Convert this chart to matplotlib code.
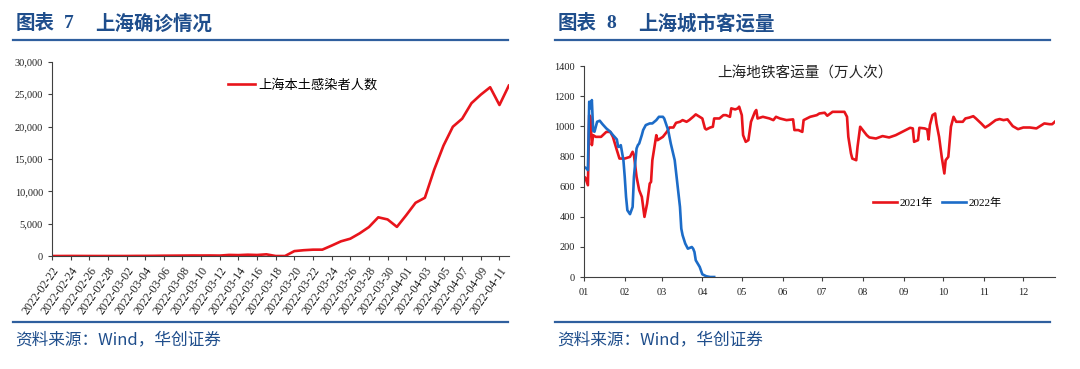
import matplotlib
matplotlib.use("Agg")
import matplotlib.pyplot as plt
from matplotlib.lines import Line2D
from matplotlib.ticker import FuncFormatter
import pandas as pd

CJK = ["Noto Sans CJK SC", "DejaVu Sans"]
SERIF = ["Liberation Serif", "Noto Sans CJK SC"]

TITLE_BLUE = "#1f4e8c"
RULE_BLUE = "#2f5f9e"
RED = "#e8141b"
BLUE = "#1c6cc8"

# ---- chart 7: Shanghai local infections, daily 2022-02-22 .. 2022-04-12
case_start, case_end = "2022-02-22", "2022-04-12"
cases_feb = [2, 3, 10, 8, 3, 1, 2]
cases_mar = [2, 5, 16, 19, 28, 48, 55, 65, 80, 75,
             83, 65, 169, 139, 202, 158, 260, 0, 0, 758,
             896, 981, 983, 1609, 2269, 2676, 3500, 4477, 5982, 5653,
             4502]
cases_apr = [6311, 8226, 9006, 13354, 17077, 19982, 21222, 23624, 24944, 26087,
             23342, 26330]
cases_label = "上海本土感染者人数"

# ---- chart 8: Shanghai metro ridership (10k trips), x = day of year
day_2021 = [0, 1, 3, 4, 5, 6, 7, 9, 13, 17, 20, 22, 25, 27, 31, 35, 37, 38, 40, 42,
            44, 46, 48, 50, 51, 52, 54, 55, 56, 58, 60, 63, 65, 68, 70, 73, 75, 78, 80, 83,
            85, 88, 90, 92, 93, 96, 98, 99, 103, 106, 108, 111, 112, 115, 117, 118, 120, 121, 123, 125,
            127, 130, 131, 132, 136, 141, 144, 146, 149, 154, 159, 160, 163, 166, 167, 172, 177, 179, 183, 185,
            189, 192, 198, 200, 201, 203, 204, 207, 208, 210, 212, 215, 217, 222, 227, 232, 237, 242, 248, 250,
            251, 254, 255, 259, 261, 262, 263, 265, 267, 268, 270, 272, 274, 275, 277, 279, 281, 283, 288, 290,
            293, 296, 298, 302, 305, 308, 313, 316, 319, 322, 326, 330, 334, 339, 344, 350, 354, 356, 358]
ride_2021 = [665, 660, 609, 1074, 1063, 875, 941, 930, 930, 963, 963, 930, 842, 786, 786, 797, 831, 809, 665, 576,
             532, 399, 487, 620, 631, 775, 886, 941, 908, 919, 930, 963, 992, 992, 1023, 1030, 1041, 1030, 1041, 1063,
             1079, 1063, 1052, 986, 979, 992, 997, 1052, 1052, 1074, 1074, 1063, 1119, 1112, 1119, 1130, 1074, 941, 897, 908,
             1030, 1096, 1108, 1052, 1063, 1052, 1041, 1063, 1052, 1041, 1046, 975, 975, 963, 1041, 1063, 1074, 1085, 1090, 1070,
             1096, 1096, 1096, 1063, 930, 820, 786, 775, 864, 997, 975, 941, 926, 919, 935, 926, 941, 963, 990, 986,
             897, 908, 990, 986, 979, 913, 1008, 1074, 1085, 1019, 930, 797, 687, 775, 797, 997, 1063, 1030, 1030, 1052,
             1058, 1067, 1052, 1019, 992, 1008, 1041, 1048, 1041, 1046, 1001, 981, 992, 992, 986, 1019, 1014, 1014, 1030]

day_2022 = [0, 2, 3, 4, 5, 6, 7, 8, 10, 12, 14, 17, 20, 22, 25, 26, 27, 28, 30, 31,
            32, 33, 35, 37, 38, 40, 41, 42, 44, 45, 47, 50, 52, 55, 57, 60, 61, 64, 66, 69,
            71, 73, 74, 75, 77, 79, 82, 83, 84, 85, 88, 90, 93, 96, 99]
ride_2022 = [731, 720, 709, 1163, 1120, 1174, 970, 964, 1030, 1037, 1015, 986, 964, 942, 913, 864, 864, 875, 775, 665,
             532, 443, 417, 465, 665, 853, 875, 886, 942, 975, 1008, 1019, 1019, 1041, 1063, 1063, 1052, 975, 886, 775,
             620, 465, 321, 277, 222, 188, 199, 188, 166, 111, 67, 18, 5, 0, 0]

month_start = [0, 31, 59, 90, 120, 151, 181, 212, 243, 273, 304, 334]
month_labels = ["01", "02", "03", "04", "05", "06", "07", "08", "09", "10", "11", "12"]
ride_title = "上海地铁客运量（万人次）"
ride_legend = ["2021年", "2022年"]


def style_axes(ax):
    for side in ("top", "right"):
        ax.spines[side].set_visible(False)
    for side in ("left", "bottom"):
        ax.spines[side].set_color("#404040")
        ax.spines[side].set_linewidth(0.8)
    ax.tick_params(direction="out", length=3, width=0.8, color="#404040",
                   labelsize=7.5, labelcolor="#222222")
    for lab in ax.get_xticklabels() + ax.get_yticklabels():
        lab.set_family(SERIF)


fig = plt.figure(figsize=(10.8, 3.69), dpi=100)

# headers, rules and source lines
for x0, x1, tx, num, head in [(0.012, 0.4704, 0.014, "7", "上海确诊情况"),
                              (0.5139, 0.9722, 0.516, "8", "上海城市客运量")]:
    fig.text(tx, 0.935, "图表", family=CJK, fontsize=14, fontweight="bold",
             color=TITLE_BLUE, va="center", ha="left")
    fig.text(tx + 0.0455, 0.935, num, family=SERIF, fontsize=14, fontweight="bold",
             color=TITLE_BLUE, va="center", ha="left")
    fig.text(tx + 0.0745, 0.935, head, family=CJK, fontsize=14, fontweight="bold",
             color=TITLE_BLUE, va="center", ha="left")
    fig.add_artist(Line2D([x0, x1], [0.8916, 0.8916], color=RULE_BLUE, lw=1.6))
    fig.add_artist(Line2D([x0, x1], [0.1274, 0.1274], color=RULE_BLUE, lw=1.6))
    fig.text(tx, 0.078, "资料来源：Wind，华创证券", family=CJK, fontsize=12,
             style="italic", color=TITLE_BLUE, va="center", ha="left")

# ---- left chart
cases = cases_feb + cases_mar + cases_apr
dates = pd.date_range(case_start, case_end, freq="D")
ax1 = fig.add_axes([0.0481, 0.3062, 0.423, 0.526])
ax1.plot(range(len(cases)), cases, color=RED, lw=1.9, label=cases_label)
ax1.set_xlim(0, len(cases) - 1)
ax1.set_ylim(0, 30000)
ax1.set_yticks(range(0, 30001, 5000))
ax1.yaxis.set_major_formatter(FuncFormatter(lambda v, p: f"{int(v):,}"))
ticks = list(range(0, len(cases), 2))
ax1.set_xticks(ticks)
ax1.set_xticklabels([dates[i].strftime("%Y-%m-%d") for i in ticks],
                    rotation=55, ha="right", rotation_mode="anchor")
style_axes(ax1)
ax1.tick_params(axis="x", labelsize=8.5)
ax1.legend(loc="center left", bbox_to_anchor=(0.36, 0.88), frameon=False,
           prop={"family": CJK, "size": 9.5}, handlelength=2.0, handletextpad=0.3)

# ---- right chart
ax2 = fig.add_axes([0.5407, 0.2493, 0.436, 0.5718])
ax2.plot(day_2021, ride_2021, color=RED, lw=1.9, label=ride_legend[0])
ax2.plot(day_2022, ride_2022, color=BLUE, lw=1.9, label=ride_legend[1])
ax2.set_xlim(0, day_2021[-1])
ax2.set_ylim(0, 1400)
ax2.set_yticks(range(0, 1401, 200))
ax2.set_xticks(month_start)
ax2.set_xticklabels(month_labels)
style_axes(ax2)
ax2.tick_params(axis="x", pad=5)
ax2.text(0.47, 0.965, ride_title, transform=ax2.transAxes, family=CJK,
         fontsize=10.5, ha="center", va="center", color="#222222")
ax2.legend(loc="center", bbox_to_anchor=(0.75, 0.35), ncol=2, frameon=False,
           prop={"family": SERIF, "size": 8}, handlelength=2.2, handletextpad=0.2,
           columnspacing=0.8)

fig.savefig("out.png", dpi=100)
